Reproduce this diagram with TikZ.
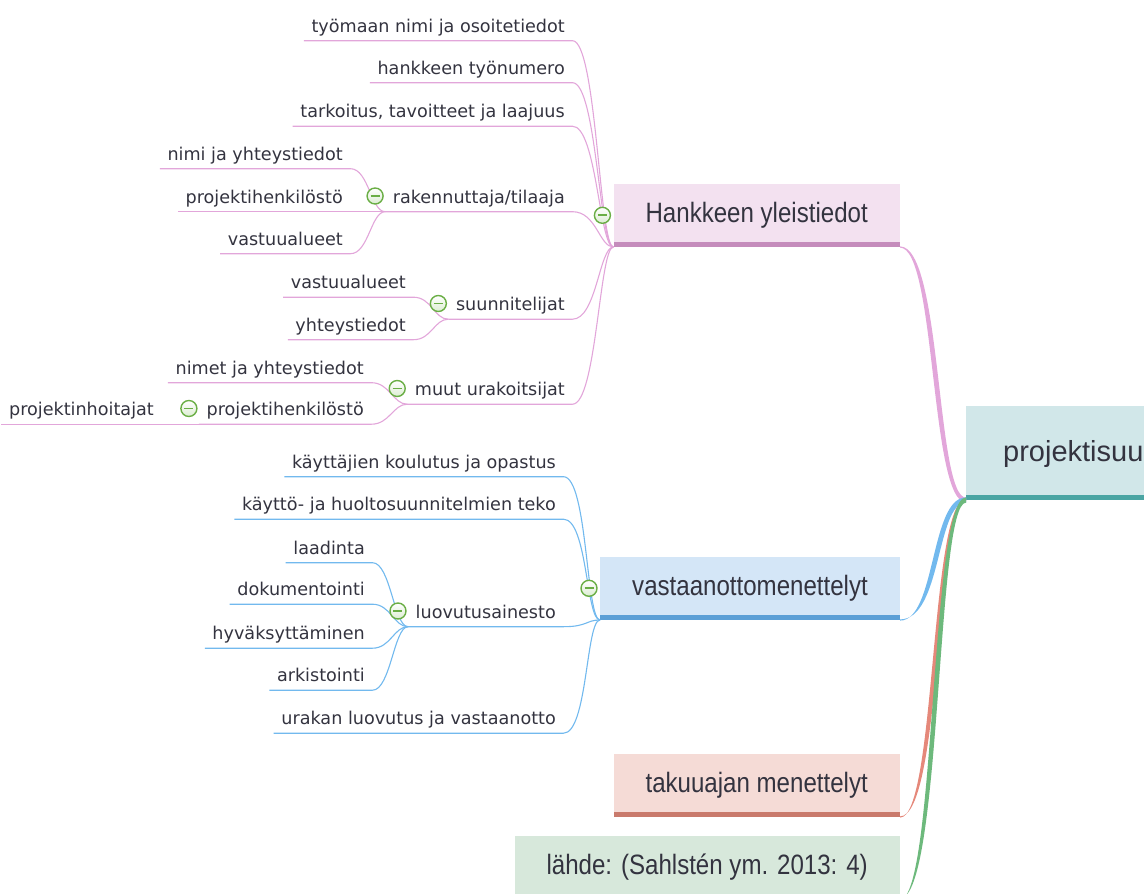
\documentclass[tikz,border=0pt]{standalone}
\usepackage{fontspec}
\setmainfont{Liberation Sans}
\newfontfamily\ideafam{DejaVu Sans}
\newfontfamily\topicfam[FakeStretch=0.86]{Liberation Sans}
\usetikzlibrary{positioning,calc}

\definecolor{ink}{HTML}{33333F}
\definecolor{pinkline}{HTML}{E2A6DA}
\definecolor{pinkfill}{HTML}{F3E1F0}
\definecolor{pinkbar}{HTML}{C58CBC}
\definecolor{blueline}{HTML}{72B9EE}
\definecolor{bluefill}{HTML}{D4E6F7}
\definecolor{bluebar}{HTML}{5B9FD6}
\definecolor{salmonline}{HTML}{E5887A}
\definecolor{salmonfill}{HTML}{F5DBD6}
\definecolor{salmonbar}{HTML}{C97A6C}
\definecolor{greenline}{HTML}{6DB97C}
\definecolor{greenfill}{HTML}{D7E8DB}
\definecolor{greenbar}{HTML}{6DB97C}
\definecolor{tealfill}{HTML}{D1E7E9}
\definecolor{tealbar}{HTML}{4AA5A3}
\definecolor{iconring}{HTML}{6AAE45}
\definecolor{iconfill}{HTML}{DCEDD2}

\newcommand\ideafont{\ideafam\fontsize{17.6pt}{21pt}\selectfont}
\newcommand\topicfont{\topicfam\fontsize{28pt}{32pt}\selectfont}
\newcommand\rootfont{\fontsize{29pt}{33pt}\selectfont}

\newcommand\mainlink[4]{%
  \fill[#1] ([yshift=0.6pt]#2) .. controls +(42,0) and +(-30,0) .. ([yshift=#3]proj.south west)
    -- ([yshift=#4]proj.south west) .. controls +(-36,0) and +(36,0) .. ([yshift=-0.6pt]#2) -- cycle;}

\tikzset{
  idea/.style={anchor=base east, inner xsep=7.5pt, inner ysep=0pt, text height=13pt, text depth=8.5pt, font=\ideafont, text=ink},
  topic/.style={anchor=south east, fill=#1fill, inner xsep=32pt, inner ysep=0pt, minimum height=63pt,
    text height=20pt, text depth=5pt, font=\topicfont, text=ink,
    path picture={\fill[#1bar] (path picture bounding box.south west) rectangle ([yshift=4.5pt]path picture bounding box.south east);}},
  fold/.style={circle, draw=iconring, line width=1.4pt, top color=white, bottom color=iconfill, minimum size=16pt, inner sep=0pt,
    path picture={\draw[iconring, line width=1.8pt] ([xshift=-4.5pt]path picture bounding box.center) -- ([xshift=4.5pt]path picture bounding box.center);}},
  pinklink/.style={draw=pinkline, line width=1.1pt},
  bluelink/.style={draw=blueline, line width=1.1pt},
}

\begin{document}
\begin{tikzpicture}[x=1pt, y=-1pt]
  \useasboundingbox (0,0) rectangle (1144,894);
  \clip (0,0) rectangle (1144,894);

  \node (proj) [topic=teal, anchor=south west, minimum height=94pt, inner xsep=37pt, font=\rootfont, text height=21pt, text depth=3pt] at (966,500) {projektisuu};
  \node (hank) [topic=pink] at (900,247) {Hankkeen yleistiedot};
  \node (vast) [topic=blue] at (900,620) {vastaanottomenettelyt};
  \node (taku) [topic=salmon] at (900,817) {takuuajan menettelyt};
  \node (lahde) [topic=green] at (900,899) {lähde: (Sahlstén ym. 2013: 4)};

  \node (tyo) [idea] at (572.5,32) {työmaan nimi ja osoitetiedot};
  \node (num) [idea] at (572.5,74) {hankkeen työnumero};
  \node (tark) [idea] at (572.5,117.5) {tarkoitus, tavoitteet ja laajuus};
  \node (rak) [idea] at (572.5,203) {rakennuttaja/tilaaja};
  \node (suun) [idea] at (572.5,310.5) {suunnitelijat};
  \node (muut) [idea] at (572.5,395.5) {muut urakoitsijat};

  \node (rnimi) [idea] at (350.5,160) {nimi ja yhteystiedot};
  \node (rhenk) [idea] at (350.5,203) {projektihenkilöstö};
  \node (rvast) [idea] at (350.5,245) {vastuualueet};
  \node (svast) [idea] at (413.5,288.5) {vastuualueet};
  \node (syht) [idea] at (413.5,331) {yhteystiedot};
  \node (mnimi) [idea] at (371.5,374) {nimet ja yhteystiedot};
  \node (mhenk) [idea] at (371.5,415.5) {projektihenkilöstö};
  \node (hoit) [idea] at (161.5,415.5) {projektinhoitajat};

  \node (kayt) [idea] at (563.5,468) {käyttäjien koulutus ja opastus};
  \node (kaytto) [idea] at (563.5,510.5) {käyttö- ja huoltosuunnitelmien teko};
  \node (luov) [idea] at (563.5,618) {luovutusainesto};
  \node (urak) [idea] at (563.5,724.5) {urakan luovutus ja vastaanotto};
  \node (laad) [idea] at (372.5,554) {laadinta};
  \node (dok) [idea] at (372.5,595.5) {dokumentointi};
  \node (hyv) [idea] at (372.5,639.5) {hyväksyttäminen};
  \node (ark) [idea] at (372.5,681.5) {arkistointi};

  \foreach \n in {tyo,num,tark,rak,suun,muut}
    \draw[pinklink] (\n.south west) -- (\n.south east) .. controls +(24,0) and +(-14,0) .. (hank.south west);
  \foreach \n in {rnimi,rhenk,rvast}
    \draw[pinklink] (\n.south west) -- (\n.south east) .. controls +(18,0) and +(-14,0) .. (rak.south west);
  \foreach \n in {svast,syht}
    \draw[pinklink] (\n.south west) -- (\n.south east) .. controls +(18,0) and +(-14,0) .. (suun.south west);
  \foreach \n in {mnimi,mhenk}
    \draw[pinklink] (\n.south west) -- (\n.south east) .. controls +(18,0) and +(-14,0) .. (muut.south west);
  \draw[pinklink] (hoit.south west) -- (hoit.south east) -- (mhenk.south west);

  \foreach \n in {kayt,kaytto,luov,urak}
    \draw[bluelink] (\n.south west) -- (\n.south east) .. controls +(24,0) and +(-14,0) .. (vast.south west);
  \foreach \n in {laad,dok,hyv,ark}
    \draw[bluelink] (\n.south west) -- (\n.south east) .. controls +(18,0) and +(-14,0) .. (luov.south west);

  \mainlink{pinkline}{hank.south east}{2.4pt}{-2.4pt}
  \mainlink{salmonline}{taku.south east}{-0.9pt}{0.9pt}
  \mainlink{blueline}{vast.south east}{-2.6pt}{2.6pt}
  \mainlink{greenline}{lahde.south east}{-2.6pt}{2.6pt}

  \node (hank-fold) [fold] at ([xshift=-11pt]hank.west) {};
  \node (vast-fold) [fold] at ([xshift=-11pt]vast.west) {};
  \foreach \n in {rak,suun,muut,mhenk,luov}
    \node (\n-fold) [fold] at ([shift={(-10pt,7pt)}]\n.base west) {};
\end{tikzpicture}
\end{document}
